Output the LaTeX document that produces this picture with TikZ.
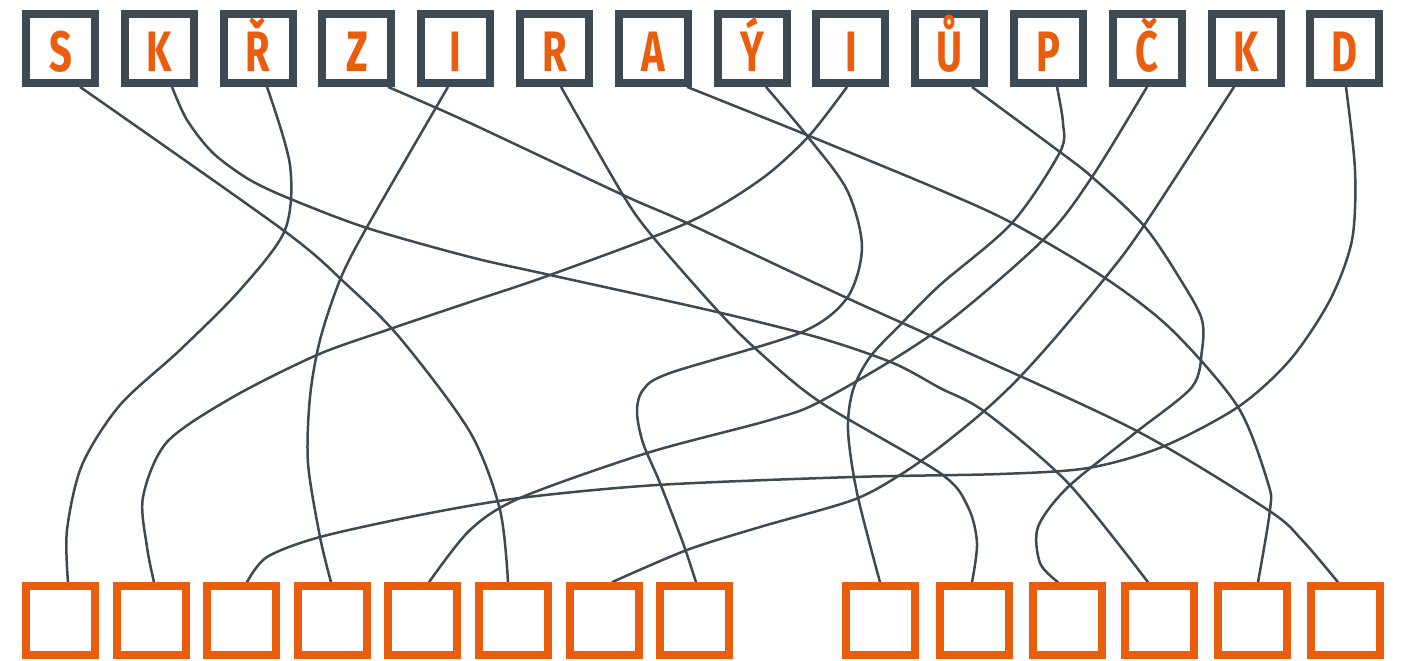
\documentclass[tikz,border=0pt]{standalone}
\usepackage{fontspec}
\usepackage{graphicx}
\newfontfamily\lettfont{Fira Sans}
\definecolor{slate}{HTML}{3D4A54}
\definecolor{orng}{HTML}{EA5D0D}
\pgfdeclarelayer{back}
\pgfdeclarelayer{wires}
\pgfsetlayers{back,wires,main}
\begin{document}
\begin{tikzpicture}[x=0.5pt,y=-0.5pt,
  topbox/.style={draw=slate, line width=4pt, fill=white, minimum size=34.5pt, inner sep=0pt},
  botbox/.style={draw=orng, line width=4pt, fill=white, minimum size=34.5pt, inner sep=0pt},
  lett/.style={anchor=base, inner sep=0pt, text=orng, font=\lettfont\bfseries\fontsize{28.5}{28.5}\selectfont},
  wire/.style={draw=slate, line width=1.25pt}]
\begin{pgfonlayer}{back}
\fill[white] (0,0) rectangle (1405,660);
\end{pgfonlayer}
\useasboundingbox (0,0) rectangle (1405,660);
% top boxes
\foreach \i/\c in {1/S,2/K,3/Ř,4/Z,5/I,6/R,7/A,8/Ý,9/I,10/Ů,11/P,12/Č,13/K,14/D}{
  \pgfmathsetmacro{\xx}{60.5+(\i-1)*98.8}
  \node[topbox] (t\i) at (\xx,48.4) {};
  \node[lett] (l\i) at (\xx,71) {\scalebox{0.7}[1]{\c}};
}
% bottom boxes
\foreach \i/\xx in {1/60.5,2/151.1,3/241.7,4/332.3,5/422.9,6/513.5,7/604.1,8/694.7,9/880.5,10/974.5,11/1067.5,12/1159.5,13/1252.5,14/1345.5}{
  \node[botbox] (b\i) at (\xx,620.7) {};
}
\begin{pgfonlayer}{wires}
% S -> 6
\draw[wire] plot[smooth] coordinates {([xshift=9.75pt]t1.south) (283,230) (345,283) (400,338) (470,432) (500,510) ([xshift=-2.75pt]b6.north)};
% K -> 12
\draw[wire] plot[smooth] coordinates {([xshift=6.35pt]t2.south) (187,120) (213,153) (250,180) (293,200) (367,228) (470,257) (550,275) (717,312) (820,338) (893,363) (940,388) (985,412) (1068,483) ([xshift=-5.75pt]b12.north)};
% R-caron -> 1
\draw[wire] plot[smooth] coordinates {([xshift=4.45pt]t3.south) (290,165) (285,230) (240,290) (180,350) (120,405) (82,465) (67,530) ([xshift=3.75pt]b1.north)};
% Z -> 14
\draw[wire] plot[smooth] coordinates {([xshift=15.55pt]t4.south) (470,123) (623,195) (687,223) (847,298) (940,340) (1135,430) (1268,510) (1302,540) ([xshift=-3.75pt]b14.north)};
% I -> 4
\draw[wire] plot[smooth] coordinates {([xshift=-3.85pt]t5.south) (367,227) (340,280) (320,340) (310,397) (308,463) (320,537) ([xshift=-0.65pt]b4.north)};
% R -> 10
\draw[wire] plot[smooth] coordinates {([xshift=3.25pt]t6.south) (623,195) (653,237) (717,310) (757,350) (820,402) (940,473) (968,507) (977,543) ([xshift=-1.25pt]b10.north)};
% A -> 13
\draw[wire] plot[smooth] coordinates {([xshift=16.85pt]t7.south) (807,135) (940,190) (1012,223) (1105,278) (1172,330) (1238,407) (1268,483) (1270,510) ([xshift=2.75pt]b13.north)};
% Y-acute -> 8
\draw[wire] plot[smooth] coordinates {([xshift=6.95pt]t8.south) (808,137) (847,190) (862,247) (847,298) (800,333) (670,373) (643,390) (637,412) (643,443) (660,483) (683,543) ([xshift=0.65pt]b8.north)};
% I -> 2
\draw[wire] plot[smooth] coordinates {([xshift=-1.95pt]t9.south) (808,137) (760,180) (687,223) (550,275) (470,302) (387,330) (317,355) (233,397) (167,442) (143,497) (147,547) ([xshift=1.45pt]b2.north)};
% U-ring -> 11
\draw[wire] plot[smooth] coordinates {([xshift=11.15pt]t10.south) (1060,152) (1092,177) (1145,227) (1185,287) (1202,320) (1202,350) (1192,387) (1135,433) (1068,487) (1038,527) (1040,563) ([xshift=-4.75pt]b11.north)};
% P -> 9
\draw[wire] plot[smooth] coordinates {([xshift=4.25pt]t11.south) (1063,123) (1060,152) (1012,223) (940,285) (900,325) (870,357) (853,390) (848,430) (857,493) ([xshift=-0.25pt]b9.north)};
% C-caron -> 5
\draw[wire] plot[smooth] coordinates {([xshift=-0.15pt]t12.south) (1092,177) (1043,240) (935,332) (823,400) (770,420) (647,453) (520,498) (470,530) ([xshift=3.05pt]b5.north)};
% K -> 7
\draw[wire] plot[smooth] coordinates {([xshift=-6.05pt]t13.south) (1143,227) (1105,278) (1055,338) (1017,380) (983,412) (940,447) (900,475) (853,500) (760,527) (687,550) ([xshift=3.95pt]b7.north)};
% D -> 3
\draw[wire] plot[smooth] coordinates {([xshift=0.55pt]t14.south) (1355,170) (1352,240) (1330,300) (1290,360) (1238,407) (1162,447) (1088,468) (1000,474) (853,477) (657,485) (520,498) (420,515) (320,537) (267,557) ([xshift=2.65pt]b3.north)};
\end{pgfonlayer}
\end{tikzpicture}
\end{document}
